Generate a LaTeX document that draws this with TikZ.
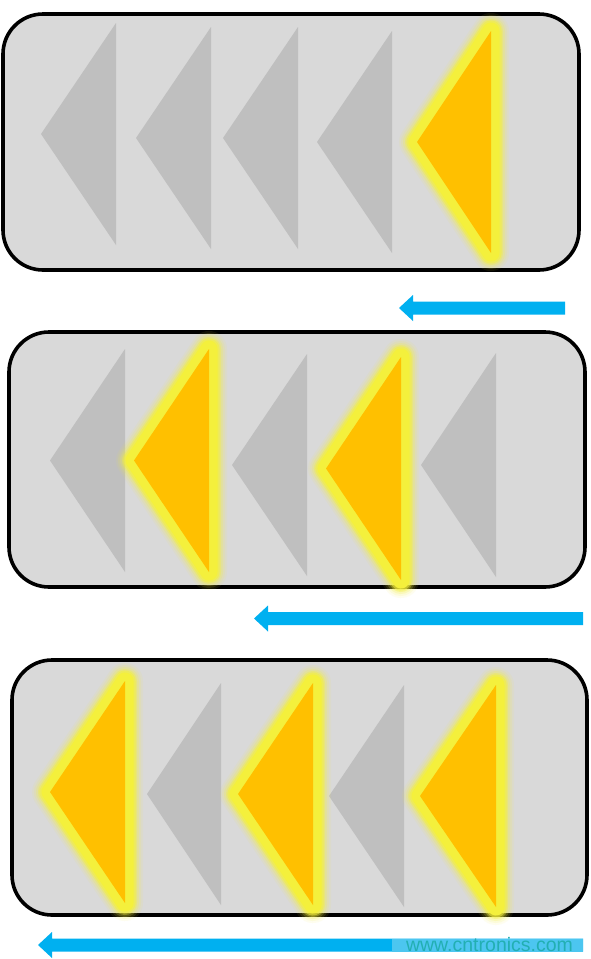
\documentclass[tikz,border=0pt]{standalone}
\usepackage{fontspec}
\setmainfont{Liberation Sans}
\definecolor{boxgray}{HTML}{D9D9D9}
\definecolor{trigray}{HTML}{BFBFBF}
\definecolor{triorange}{HTML}{FFC000}
\definecolor{glowyellow}{HTML}{F4F03C}
\definecolor{arrowblue}{HTML}{00B0F0}
\definecolor{wmblue}{HTML}{4CC6F0}
\definecolor{wmtext}{HTML}{22AFB2}
\tikzset{
  panel/.style={draw=black, line width=3.6, rounded corners=40, fill=boxgray},
  greytri/.style={fill=trigray},
  orangetri/.style={fill=triorange},
  flowarrow/.style={fill=arrowblue},
}
% #1 apex x, #2 right x, #3 top y, #4 bottom y
\newcommand\greyTri[4]{%
  \fill[greytri] (#1,{(#3+#4)/2}) -- (#2,#3) -- (#2,#4) -- cycle;}
\newcommand\litTri[4]{%
  \foreach \w/\o in {36/0.08,32/0.12,28/0.2,24/0.35,21/0.55}{%
    \draw[glowyellow, line width=\w, opacity=\o, line join=round]
      (#1,{(#3+#4)/2}) -- (#2,#3) -- (#2,#4) -- cycle;}
  \draw[glowyellow, line width=17, line join=round]
      (#1,{(#3+#4)/2}) -- (#2,#3) -- (#2,#4) -- cycle;
  \fill[orangetri] (#1,{(#3+#4)/2}) -- (#2,#3) -- (#2,#4) -- cycle;}
% #1 tip x, #2 center y, #3 right end x
\newcommand\blockArrow[3]{%
  \fill[flowarrow] (#1,#2) -- (#1+14,#2-13) -- (#1+14,#2-6.5) -- (#3,#2-6.5)
     -- (#3,#2+6.5) -- (#1+14,#2+6.5) -- (#1+14,#2+13) -- cycle;}
\begin{document}
\begin{tikzpicture}[x=1pt,y=-1pt]
\useasboundingbox (0,0) rectangle (591,959);
\fill[white] (0,0) rectangle (591,959);

% panel 1
\draw[panel] (3,14) rectangle (579,270);
\greyTri{41}{116}{23}{245}
\greyTri{136}{211}{27}{249}
\greyTri{223}{298}{27}{249}
\greyTri{317}{392}{31}{253}
\litTri{417}{491}{31}{253}

% panel 2
\draw[panel] (9,332) rectangle (585,587);
\greyTri{50}{125}{349}{572}
\greyTri{232}{307}{354}{576}
\greyTri{421}{496}{353}{577}
\litTri{134}{209}{349}{572}
\litTri{326}{401}{357}{580}

% panel 3
\draw[panel] (12,660) rectangle (587,915);
\greyTri{147}{221}{683}{905}
\greyTri{329}{404}{685}{907}
\litTri{50}{125}{681}{903}
\litTri{238}{313}{683}{905}
\litTri{420}{496}{685}{907}

% arrows
\blockArrow{399}{308}{565}
\blockArrow{254}{618.5}{583}
\blockArrow{38}{945}{583}

% watermark
\fill[wmblue] (392,938.5) rectangle (583,951.5);
\node[text=wmtext, font=\fontsize{19.5}{19.5}\selectfont, inner sep=0, anchor=base] (wm) at (489.5,951) {www.cntronics.com};
\end{tikzpicture}
\end{document}
